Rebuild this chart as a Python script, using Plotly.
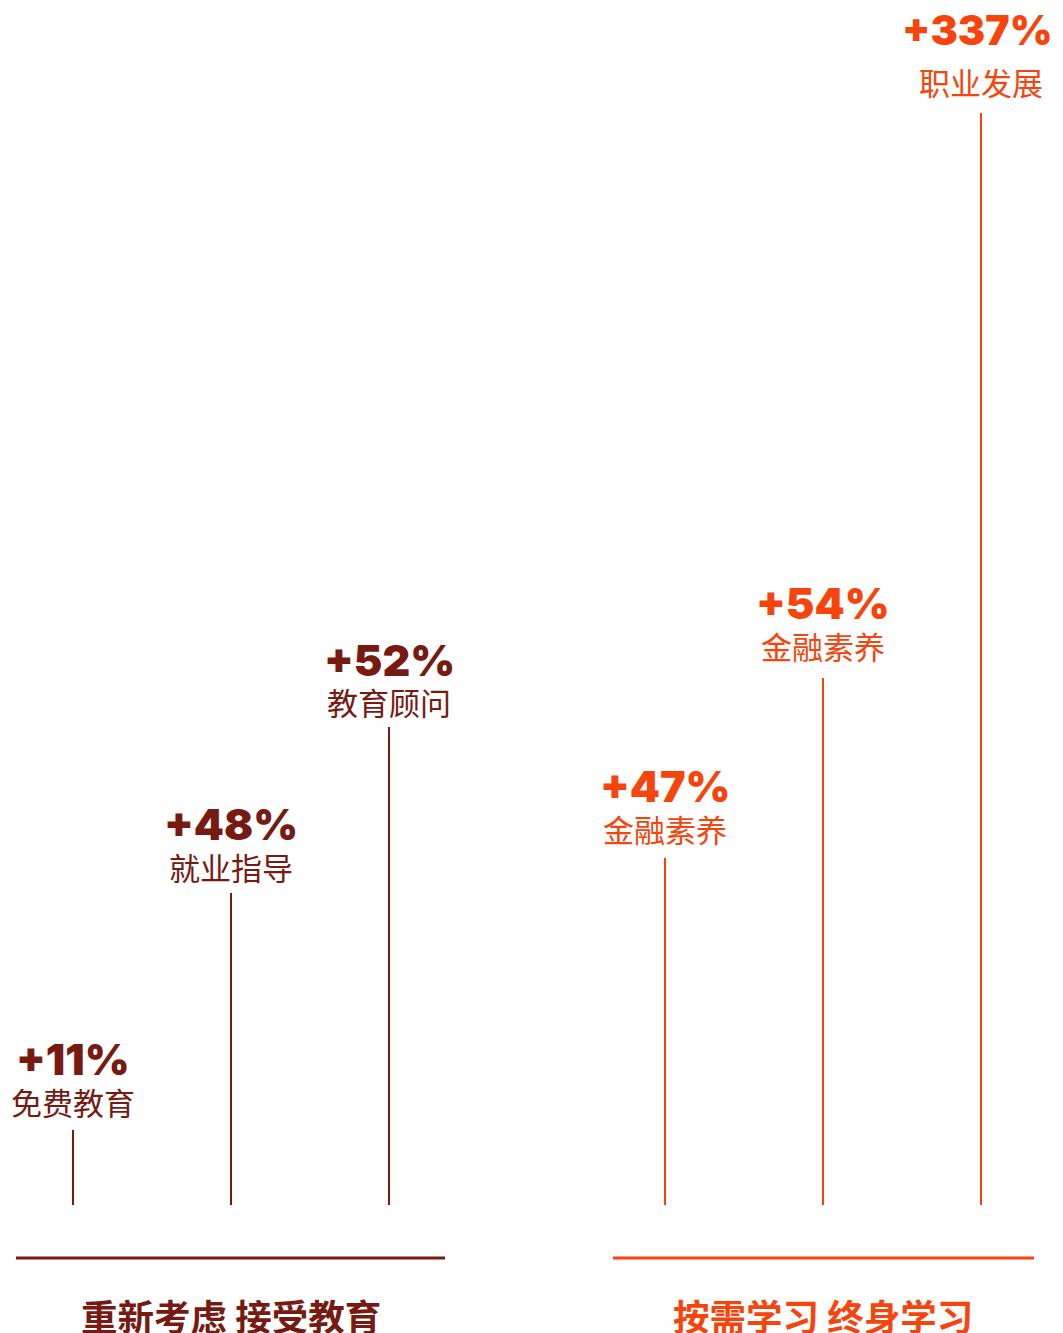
import plotly.graph_objects as go

# ---- data ----
percent_labels = ["+11%", "+48%", "+52%", "+47%", "+54%", "+337%"]
category_labels = ["免费教育", "就业指导", "教育顾问", "金融素养", "金融素养", "职业发展"]
line_heights = [75, 312, 478, 347, 527, 1092]   # visual line heights
groups = [0, 0, 0, 1, 1, 1]
group_titles = ["重新考虑 接受教育", "按需学习 终身学习"]

# ---- style / layout ----
DARK = "#761a12"
ORANGE = "#f5450d"
group_colors = [DARK, ORANGE]
W, H = 1063, 1333
OFF = 8            # page body margin
BASE_PX = 1205
x_pos = [73, 231, 389, 665, 823, 981]
pct_shift = [71, 69, 67, 72, 75, 83]
cat_shift = [29, 27, 26, 30, 33, 32]
pct_size = [43, 43, 43, 43, 43, 41]
group_spans = [(16, 445), (613, 1034)]
group_centers = [231, 823]

colors = [group_colors[g] for g in groups]

fig = go.Figure()
fig.add_trace(go.Bar(
    x=x_pos, y=line_heights, width=2.2,
    marker=dict(color=colors, line=dict(width=0)),
    hoverinfo="skip", showlegend=False,
))

ann = []
for i, (x, h, p, c, col) in enumerate(zip(x_pos, line_heights, percent_labels, category_labels, colors)):
    ann.append(dict(x=x, y=h, xref="x", yref="y", text=c, showarrow=False,
                    xanchor="center", yanchor="middle", yshift=cat_shift[i],
                    font=dict(family="Noto Sans CJK SC", size=31, color=col)))
    ann.append(dict(x=x - (4 if i == 5 else 0), y=h, xref="x", yref="y", text=p, showarrow=False,
                    xanchor="center", yanchor="middle", yshift=pct_shift[i],
                    font=dict(family="Inter", size=pct_size[i], color=col, weight=900)))

shapes = []
for (x0, x1), col, title, cx in zip(group_spans, group_colors, group_titles, group_centers):
    shapes.append(dict(type="line", xref="x", yref="y", x0=x0, x1=x1,
                       y0=BASE_PX - 1258, y1=BASE_PX - 1258,
                       line=dict(color=col, width=3)))
    ann.append(dict(x=cx, y=BASE_PX - 1315, xref="x", yref="y", text="<b>%s</b>" % title,
                    showarrow=False, xanchor="center", yanchor="middle",
                    font=dict(family="Noto Sans CJK SC", size=36.5, color=col)))

PH = H - OFF
fig.update_layout(
    width=W - OFF, height=PH,
    margin=dict(l=0, r=0, t=0, b=0),
    paper_bgcolor="white", plot_bgcolor="white",
    xaxis=dict(range=[OFF, W], visible=False, fixedrange=True),
    yaxis=dict(range=[BASE_PX - OFF - PH, BASE_PX - OFF], visible=False, fixedrange=True),
    annotations=ann, shapes=shapes,
    bargap=0,
)
fig.write_html("out.html")
